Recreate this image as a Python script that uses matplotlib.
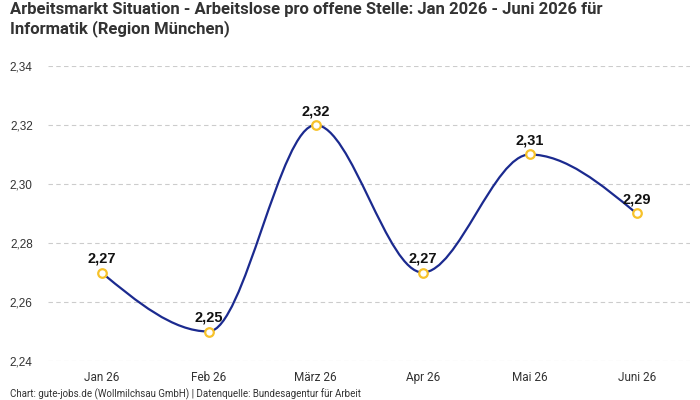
import numpy as np
import matplotlib.pyplot as plt
from matplotlib.path import Path
from matplotlib.patches import PathPatch

# data
months = ["Jan 26", "Feb 26", "März 26", "Apr 26", "Mai 26", "Juni 26"]
values = [2.27, 2.25, 2.32, 2.27, 2.31, 2.29]
y_ticks = [2.24, 2.26, 2.28, 2.30, 2.32, 2.34]

title = ("Arbeitsmarkt Situation - Arbeitslose pro offene Stelle: Jan 2026 - Juni 2026 für\n"
         "Informatik (Region München)")
footer = "Chart: gute-jobs.de (Wollmilchsau GmbH) | Datenquelle: Bundesagentur für Arbeit"

LINE = "#1b2a8f"
MARK = "#f7c22a"


def monotone_path(x, y):
    # monotone cubic (like d3 curveMonotoneX) as bezier segments
    x = np.asarray(x, float)
    y = np.asarray(y, float)
    n = len(x)
    h = np.diff(x)
    s = np.diff(y) / h
    t = np.zeros(n)
    for i in range(1, n - 1):
        if s[i - 1] * s[i] <= 0:
            t[i] = 0
        else:
            p = (s[i - 1] * h[i] + s[i] * h[i - 1]) / (h[i - 1] + h[i])
            t[i] = (np.sign(s[i - 1]) + np.sign(s[i])) * min(abs(s[i - 1]), abs(s[i]), 0.5 * abs(p))
    t[0] = (3 * s[0] - t[1]) / 2 if n > 2 else s[0]
    t[-1] = (3 * s[-1] - t[-2]) / 2 if n > 2 else s[-1]
    verts = [(x[0], y[0])]
    codes = [Path.MOVETO]
    for i in range(n - 1):
        dx = h[i] / 3
        verts += [(x[i] + dx, y[i] + dx * t[i]),
                  (x[i + 1] - dx, y[i + 1] - dx * t[i + 1]),
                  (x[i + 1], y[i + 1])]
        codes += [Path.CURVE4] * 3
    return Path(verts, codes)


fig = plt.figure(figsize=(7, 4), dpi=100)
ax = fig.add_axes([0.0686, 0.0975, 0.9174, 0.7375])

xs = np.arange(len(months))
ax.add_patch(PathPatch(monotone_path(xs, values), facecolor="none", edgecolor=LINE, lw=1.6, zorder=3))
ax.scatter(xs, values, s=38, facecolor="white", edgecolor=MARK, linewidth=1.6, zorder=4)

for x, v in zip(xs, values):
    ax.annotate(f"{v:.2f}".replace(".", ","), (x, v), xytext=(0, 5), textcoords="offset points",
                ha="center", va="bottom", fontsize=10.5, fontweight="bold", color="#111111",
                family="Liberation Sans")

ax.set_xlim(-0.5, len(months) - 0.5)
ax.set_ylim(2.24, 2.34)
ax.set_yticks(y_ticks)
ax.set_yticklabels([f"{t:.2f}".replace(".", ",") for t in y_ticks], family="Liberation Sans",
                   fontsize=8.5, color="#333333")
ax.set_xticks(xs)
ax.set_xticklabels(months, family="Roboto", fontsize=8.5, color="#333333")
ax.tick_params(length=0)
ax.tick_params(axis="y", pad=11)
ax.tick_params(axis="x", pad=7)
for sp in ax.spines.values():
    sp.set_visible(False)
ax.grid(axis="y", color="#cccccc", linestyle=(0, (4, 3)), linewidth=0.8)
ax.set_axisbelow(True)

fig.text(0.014, 0.995, title, ha="left", va="top", fontsize=12, fontweight="bold",
         color="#333333", family="Roboto", linespacing=1.2)
fig.text(0.014, 0.0, footer, ha="left", va="bottom", fontsize=7, color="#333333", family="Roboto")

fig.savefig("out.png", dpi=100)
